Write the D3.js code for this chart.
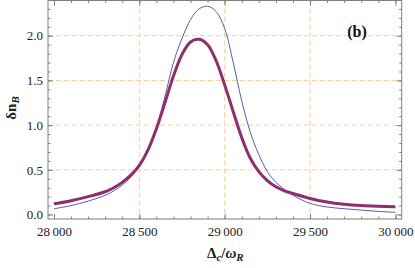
<!DOCTYPE html>
<html>
<head>
<meta charset="utf-8">
<script src="https://cdnjs.cloudflare.com/ajax/libs/d3/7.8.5/d3.min.js"></script>
<style>
  body { margin: 0; background: #fff; }
  text { font-family: "Liberation Serif", "Times New Roman", "DejaVu Serif", serif; }
</style>
</head>
<body>
<script>
// chart size
var width = 415;
var height = 268;
var serif = '"Liberation Serif", "Times New Roman", "DejaVu Serif", serif';

// detuning values (x) shared by both curves
var detuning = [28000, 28100, 28200, 28300, 28350, 28400, 28450, 28500, 28550, 28600,
                28650, 28700, 28750, 28800, 28850, 28900, 28950, 29000, 29050, 29100,
                29150, 29200, 29250, 29300, 29350, 29400, 29500, 29600, 29700, 29800,
                29900, 30000];

// thin blue curve
var thinValues = [0.065, 0.10, 0.15, 0.215, 0.265, 0.33, 0.42, 0.54, 0.72, 0.97,
                  1.32, 1.70, 1.97, 2.18, 2.30, 2.33, 2.27, 2.08, 1.70, 1.27,
                  0.92, 0.67, 0.48, 0.36, 0.28, 0.215, 0.125, 0.085, 0.065, 0.05,
                  0.035, 0.025];

// thick purple curve
var thickValues = [0.12, 0.155, 0.20, 0.255, 0.30, 0.36, 0.44, 0.55, 0.72, 0.96,
                   1.25, 1.55, 1.79, 1.93, 1.96, 1.90, 1.72, 1.45, 1.15, 0.86,
                   0.63, 0.48, 0.38, 0.31, 0.265, 0.235, 0.18, 0.14, 0.115, 0.10,
                   0.092, 0.087];

// ticks and gridlines
var xTicks = [28000, 28500, 29000, 29500, 30000];
var yTicks = [0.0, 0.5, 1.0, 1.5, 2.0];
var xGrid = [28500, 29000, 29500];
var yGrid = [0.5, 1.0, 1.5, 2.0];

window.onload = function() {
  var left = 48, right = 401.7, top = 0.5, bottom = 219;

  var svg = d3.select("body")
    .append("svg")
    .attr("width", width)
    .attr("height", height);

  var xScale = d3.scaleLinear()
                 .domain([27965, 30037])
                 .range([left, right]);
  var yScale = d3.scaleLinear()
                 .domain([-0.05, 2.394])
                 .range([bottom, top]);

  // gridlines
  var gridColor = "#ffcc99";
  svg.selectAll(".gx")
     .data(xGrid)
     .enter()
     .append("line")
     .attr("x1", function(d) { return xScale(d); })
     .attr("x2", function(d) { return xScale(d); })
     .attr("y1", top)
     .attr("y2", bottom)
     .attr("stroke", gridColor)
     .attr("stroke-width", 1)
     .attr("stroke-dasharray", "5,3");
  svg.selectAll(".gy")
     .data(yGrid)
     .enter()
     .append("line")
     .attr("x1", left)
     .attr("x2", right)
     .attr("y1", function(d) { return yScale(d); })
     .attr("y2", function(d) { return yScale(d); })
     .attr("stroke", gridColor)
     .attr("stroke-width", 1)
     .attr("stroke-dasharray", "5,3");

  // curves
  var line = d3.line()
    .x(function(d) { return xScale(d[0]); })
    .y(function(d) { return yScale(d[1]); })
    .curve(d3.curveCatmullRom.alpha(0.5));

  svg.append("path")
     .datum(d3.zip(detuning, thinValues))
     .attr("d", line)
     .attr("fill", "none")
     .attr("stroke", "#5a5ab4")
     .attr("stroke-width", 1);

  svg.append("path")
     .datum(d3.zip(detuning, thickValues))
     .attr("d", line)
     .attr("fill", "none")
     .attr("stroke", "#8e2f6c")
     .attr("stroke-width", 3);

  // axes (ticks point inward like a frame)
  var minorX = d3.range(28000, 30001, 100);
  var minorY = d3.range(0, 2.35, 0.1);
  var fmtX = function(d) { return d3.format(",")(d).replace(",", "\u2009"); };
  var tickColor = "#808080";

  function styleAxis(g) {
    g.select(".domain").remove();
    g.selectAll("line").attr("stroke", tickColor);
    g.selectAll("text")
     .attr("fill", "#222")
     .attr("font-family", serif)
     .style("font-size", "13px")
     .style("font-family", serif);
  }

  svg.append("g")
     .attr("transform", "translate(0," + bottom + ")")
     .call(d3.axisBottom(xScale).tickValues(xTicks).tickFormat(fmtX)
           .tickSizeInner(-5).tickSizeOuter(0).tickPadding(8))
     .call(styleAxis);
  svg.append("g")
     .attr("transform", "translate(0," + bottom + ")")
     .call(d3.axisBottom(xScale).tickValues(minorX).tickFormat("")
           .tickSizeInner(-2.5).tickSizeOuter(0))
     .call(styleAxis);
  svg.append("g")
     .attr("transform", "translate(0," + top + ")")
     .call(d3.axisTop(xScale).tickValues(xTicks).tickFormat("")
           .tickSizeInner(-5).tickSizeOuter(0))
     .call(styleAxis);
  svg.append("g")
     .attr("transform", "translate(0," + top + ")")
     .call(d3.axisTop(xScale).tickValues(minorX).tickFormat("")
           .tickSizeInner(-2.5).tickSizeOuter(0))
     .call(styleAxis);

  svg.append("g")
     .attr("transform", "translate(" + left + ",0)")
     .call(d3.axisLeft(yScale).tickValues(yTicks).tickFormat(d3.format(".1f"))
           .tickSizeInner(-5).tickSizeOuter(0).tickPadding(5))
     .call(styleAxis);
  svg.append("g")
     .attr("transform", "translate(" + left + ",0)")
     .call(d3.axisLeft(yScale).tickValues(minorY).tickFormat("")
           .tickSizeInner(-2.5).tickSizeOuter(0))
     .call(styleAxis);
  svg.append("g")
     .attr("transform", "translate(" + right + ",0)")
     .call(d3.axisRight(yScale).tickValues(yTicks).tickFormat("")
           .tickSizeInner(-5).tickSizeOuter(0))
     .call(styleAxis);
  svg.append("g")
     .attr("transform", "translate(" + right + ",0)")
     .call(d3.axisRight(yScale).tickValues(minorY).tickFormat("")
           .tickSizeInner(-2.5).tickSizeOuter(0))
     .call(styleAxis);

  // frame
  svg.append("rect")
     .attr("x", left)
     .attr("y", top)
     .attr("width", right - left)
     .attr("height", bottom - top)
     .attr("fill", "none")
     .attr("stroke", tickColor)
     .attr("stroke-width", 1);

  // x label
  var xl = svg.append("text")
     .attr("x", (left + right) / 2 + 0.5)
     .attr("y", 258)
     .attr("text-anchor", "middle")
     .attr("font-family", serif)
     .style("font-family", serif)
     .style("font-size", "15px")
     .style("font-weight", "bold")
     .attr("fill", "#222");
  xl.append("tspan").text("\u0394");
  xl.append("tspan").attr("dy", 3).style("font-size", "11px").style("font-style", "italic").text("c");
  xl.append("tspan").attr("dy", -3).text("/");
  xl.append("tspan").style("font-style", "italic").text("\u03c9");
  xl.append("tspan").attr("dy", 3).style("font-size", "11px").style("font-style", "italic").text("R");

  // y label
  var yl = svg.append("text")
     .attr("transform", "translate(16,108) rotate(-90)")
     .attr("text-anchor", "middle")
     .attr("font-family", serif)
     .style("font-family", serif)
     .style("font-size", "15px")
     .style("font-weight", "bold")
     .attr("fill", "#222");
  yl.append("tspan").text("\u03b4n");
  yl.append("tspan").attr("dy", 3).style("font-size", "11px").style("font-style", "italic").text("B");

  // panel label
  svg.append("text")
     .attr("x", 357)
     .attr("y", 37)
     .attr("text-anchor", "middle")
     .attr("font-family", serif)
     .style("font-family", serif)
     .style("font-size", "16px")
     .style("font-weight", "bold")
     .attr("fill", "#111")
     .text("(b)");
};
</script>
</body>
</html>
